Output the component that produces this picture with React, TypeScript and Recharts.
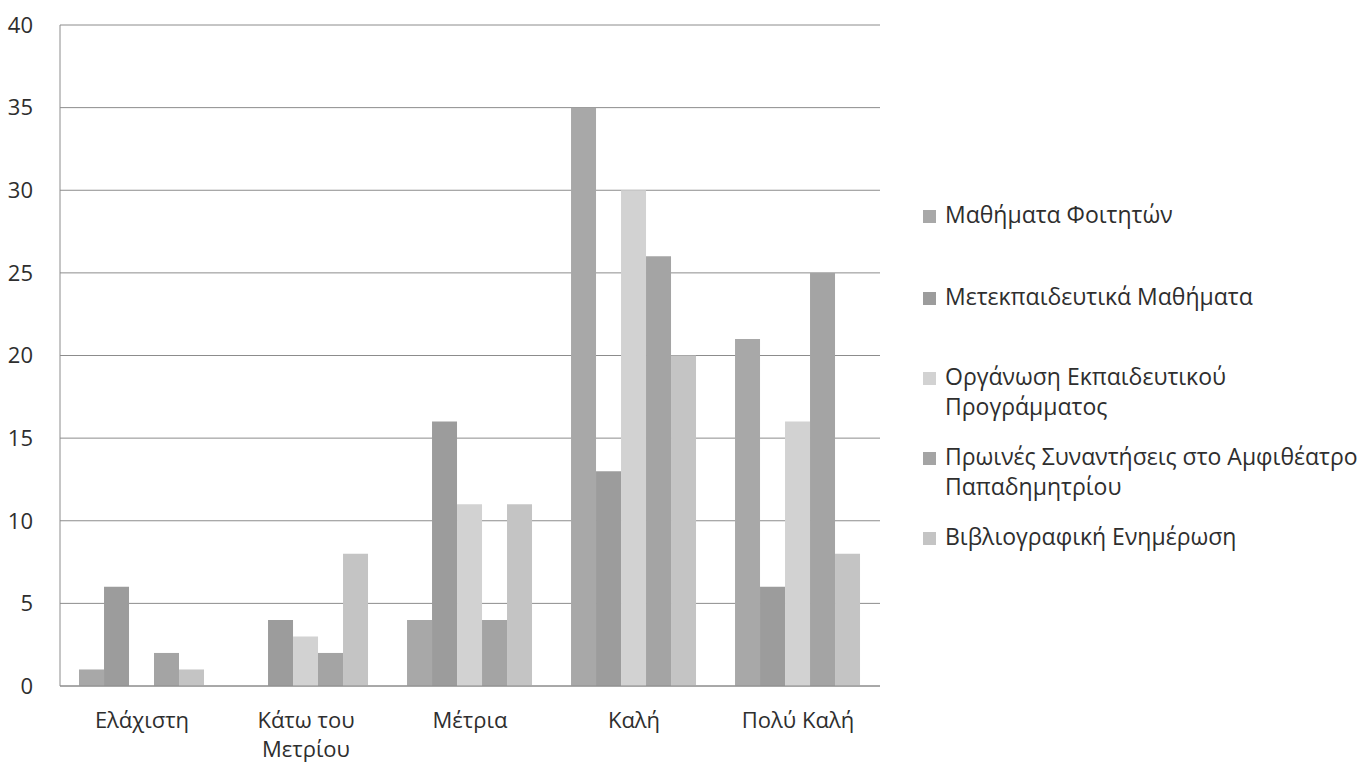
import React from "react";
import { BarChart, Bar, XAxis, YAxis, CartesianGrid } from "recharts";

const categories = ["Ελάχιστη", "Κάτω του\nΜετρίου", "Μέτρια", "Καλή", "Πολύ Καλή"];
const seriesNames = [
  "Μαθήματα Φοιτητών",
  "Μετεκπαιδευτικά Μαθήματα",
  "Οργάνωση Εκπαιδευτικού\nΠρογράμματος",
  "Πρωινές Συναντήσεις στο Αμφιθέατρο\nΠαπαδημητρίου",
  "Βιβλιογραφική Ενημέρωση",
];
const s1 = [1, 0, 4, 35, 21];
const s2 = [6, 4, 16, 13, 6];
const s3 = [0, 3, 11, 30, 16];
const s4 = [2, 2, 4, 26, 25];
const s5 = [1, 8, 11, 20, 8];
const yTicks = [0, 5, 10, 15, 20, 25, 30, 35, 40];
const colors = ["#a8a8a8", "#9c9c9c", "#d2d2d2", "#a4a4a4", "#c4c4c4"];

const seriesValues = [s1, s2, s3, s4, s5];
const keys = ["s1", "s2", "s3", "s4", "s5"];
const data = categories.map((c, i) => {
  const row: any = { name: c };
  keys.forEach((k, j) => (row[k] = seriesValues[j][i]));
  return row;
});

const FONT = "Open Sans, sans-serif";
const TEXT = "#2e2e2e";

const XTick = (props: any) => {
  const { x, y, payload } = props;
  const lines = String(payload.value).split("\n");
  return (
    <text x={x} y={y} textAnchor="middle" fill={TEXT} fontSize={22} fontFamily={FONT}>
      {lines.map((l, i) => (
        <tspan key={i} x={x} dy={i === 0 ? 34 : 29}>
          {l}
        </tspan>
      ))}
    </text>
  );
};

const legendTops = [199, 281, 361, 441, 521];

export default function App() {
  return (
    <div style={{ position: "absolute", left: 0, top: 0, width: 1360, height: 766, background: "#fff" }}>
      <BarChart
        width={1360}
        height={766}
        data={data}
        margin={{ top: 25, right: 480, bottom: 50, left: 0 }}
        barCategoryGap="11.6%"
        barGap={0}
      >
        <CartesianGrid vertical={false} stroke="#8c8c8c" strokeWidth={1} />
        <XAxis
          dataKey="name"
          tick={<XTick />}
          tickLine={false}
          axisLine={{ stroke: "#8c8c8c" }}
          interval={0}
          tickSize={6}
          tickMargin={2}
        />
        <YAxis
          width={60}
          domain={[0, 40]}
          ticks={yTicks}
          tickLine={false}
          axisLine={{ stroke: "#8c8c8c" }}
          tickSize={6}
          tickMargin={21}
          tick={{ fill: TEXT, fontSize: 22, fontFamily: FONT }}
          interval={0}
        />
        {keys.map((k, j) => (
          <Bar key={k} dataKey={k} name={seriesNames[j]} fill={colors[j]} isAnimationActive={false} />
        ))}
      </BarChart>
      {seriesNames.map((n, j) => (
        <div
          key={n}
          style={{
            position: "absolute",
            left: 923,
            top: legendTops[j],
            display: "flex",
            alignItems: "flex-start",
            fontFamily: FONT,
            fontSize: 23,
            lineHeight: "30px",
            color: TEXT,
            whiteSpace: "pre",
          }}
        >
          <div style={{ width: 13, height: 13, background: colors[j], marginTop: 11, marginRight: 9 }} />
          <div>{n}</div>
        </div>
      ))}
    </div>
  );
}
